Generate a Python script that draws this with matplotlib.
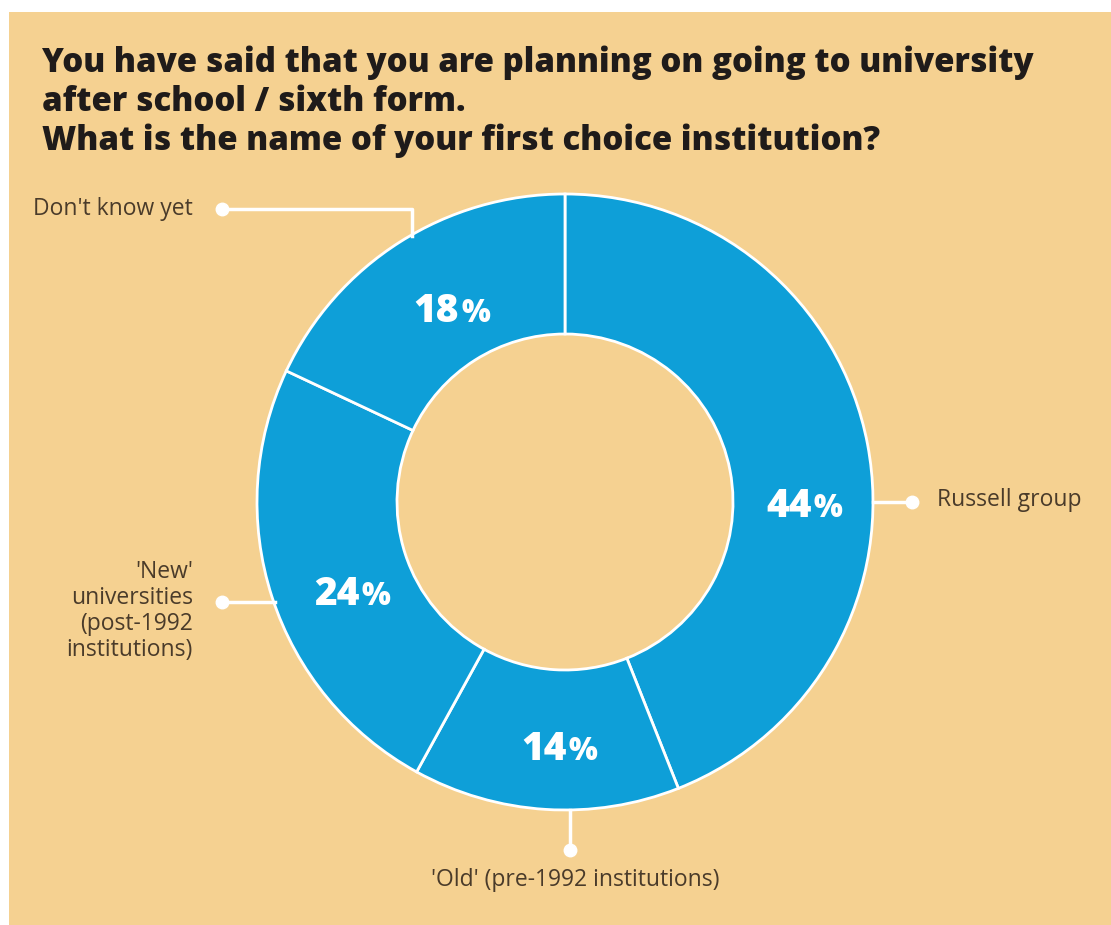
import matplotlib.pyplot as plt
from matplotlib.patches import Rectangle

# survey answers, clockwise from 12 o'clock
categories = ["Russell group", "'Old' (pre-1992 institutions)",
              "'New'\nuniversities\n(post-1992\ninstitutions)", "Don't know yet"]
shares = [44, 14, 24, 18]

title = ("You have said that you are planning on going to university\n"
         "after school / sixth form.\n"
         "What is the name of your first choice institution?")

BG = "#F5D191"
BLUE = "#0E9FD8"
TITLE_COL = "#1F1B1A"
LABEL_COL = "#4A3B2A"

W, H = 1111, 925
fig = plt.figure(figsize=(W / 100, H / 100), dpi=100, facecolor="white")
ax = fig.add_axes([0, 0, 1, 1])

ax.add_patch(Rectangle((9, 0), W - 9, H - 12, facecolor=BG, edgecolor="none", zorder=0))

cx, cy, R, ring = 565, 423, 308, 140
ax.pie(shares, colors=[BLUE] * len(shares), startangle=90, counterclock=False,
       radius=R, center=(cx, cy), frame=True,
       wedgeprops=dict(width=ring, edgecolor="white", linewidth=2))
ax.set_xlim(0, W)
ax.set_ylim(0, H)
ax.set_aspect("equal")
ax.axis("off")

# percentage labels inside the ring (offsets from centre, in units of R)
pct_pos = [(0.80, 0.0), (0.006, -0.789), (-0.666, -0.286), (-0.344, 0.633)]
for v, (dx, dy) in zip(shares, pct_pos):
    x, y = cx + dx * R, cy + dy * R - 15
    ax.text(x, y, str(v), ha="right", va="baseline", color="white",
            fontsize=28, fontweight=800, family="Open Sans", zorder=5)
    ax.text(x + 2, y, "%", ha="left", va="baseline", color="white",
            fontsize=22, fontweight=800, family="Open Sans", zorder=5)

lw = 2.5
dot = dict(marker="o", markersize=9, color="white", zorder=4)
lab = dict(color=LABEL_COL, fontsize=16.5, family="Open Sans")

# Russell group
ax.plot([cx + R, 912], [cy, cy], color="white", lw=lw, zorder=3)
ax.plot(912, cy, **dot)
ax.text(937, cy + 2, categories[0], ha="left", va="center", **lab)

# 'Old'
ax.plot([570, 570], [cy - R, H - 850], color="white", lw=lw, zorder=3)
ax.plot(570, H - 850, **dot)
ax.text(575, H - 880, categories[1], ha="center", va="center", **lab)

# 'New'
y_new = H - 602
ax.plot([222, 275], [y_new, y_new], color="white", lw=lw, zorder=1)
ax.plot(222, y_new, **dot)
ax.text(193, H - 611, categories[2], ha="right", va="center",
        multialignment="right", linespacing=1.1, **lab)

# Don't know yet
y_dk = H - 209
ax.plot([222, 412, 412], [y_dk, y_dk, H - 236], color="white", lw=lw, zorder=1)
ax.plot(222, y_dk, **dot)
ax.text(193, y_dk, categories[3], ha="right", va="center", **lab)

ax.text(42, H - 46, title, ha="left", va="top", color=TITLE_COL,
        fontsize=23.8, fontweight=800, family="Open Sans", linespacing=1.17)

fig.savefig("out.png", dpi=100, facecolor="white")
